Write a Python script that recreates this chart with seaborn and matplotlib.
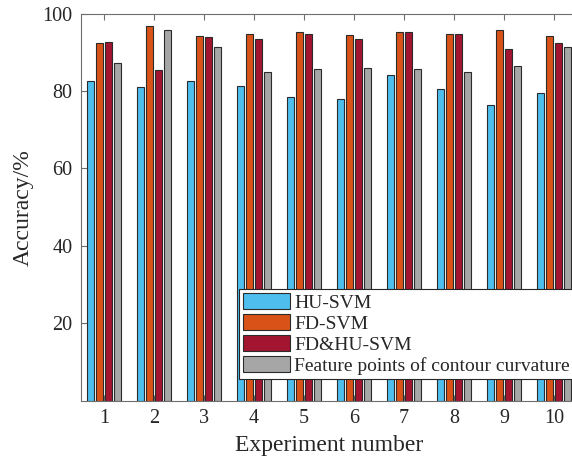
import numpy as np
import pandas as pd
import matplotlib
matplotlib.use("Agg")
import matplotlib.pyplot as plt
import seaborn as sns

# Classification accuracy (%) for each experiment and method
experiments = ["1", "2", "3", "4", "5", "6", "7", "8", "9", "10"]
hu_svm = [82.5, 81.1, 82.5, 81.4, 78.4, 77.9, 84.1, 80.4, 76.4, 79.6]
fd_svm = [92.3, 96.8, 94.3, 94.6, 95.1, 94.5, 95.3, 94.7, 95.7, 94.3]
fd_hu_svm = [92.6, 85.3, 94.0, 93.3, 94.7, 93.5, 95.3, 94.7, 90.8, 92.5]
contour_pts = [87.1, 95.7, 91.3, 85.0, 85.6, 85.9, 85.7, 85.0, 86.4, 91.3]

methods = ["HU-SVM", "FD-SVM", "FD&HU-SVM", "Feature points of contour curvature"]
colors = ["#4DBEEE", "#D95319", "#A2142F", "#A6A6A6"]
yticks = [20, 40, 60, 80, 100]

df = pd.DataFrame({
    "Experiment": np.tile(experiments, 4),
    "Accuracy": hu_svm + fd_svm + fd_hu_svm + contour_pts,
    "Method": np.repeat(methods, len(experiments)),
})

sns.set_theme(style="white")
plt.rcParams["font.family"] = ["Liberation Serif", "DejaVu Serif"]
plt.rcParams["text.color"] = "#262626"

fig = plt.figure(figsize=(5.72, 4.61), dpi=100)
ax = fig.add_axes([0.1416, 0.1302, 0.867, 0.8405])

sns.barplot(data=df, x="Experiment", y="Accuracy", hue="Method",
            hue_order=methods, order=experiments, palette=colors,
            width=0.727, gap=0.2, errorbar=None, saturation=1,
            edgecolor="#2b2b2b", linewidth=0.8, ax=ax)

ax.set_xlim(-0.46, 9.46)
ax.set_ylim(0, 100)
ax.set_yticks(yticks)
ax.set_xlabel("Experiment number", fontsize=17, color="#262626", labelpad=5)
ax.set_ylabel("Accuracy/%", fontsize=17, color="#262626", labelpad=6)

for side in ["left", "bottom", "top", "right"]:
    ax.spines[side].set_visible(True)
    ax.spines[side].set_color("#6e6e6e")
    ax.spines[side].set_linewidth(0.8)
ax.tick_params(axis="both", direction="in", length=4, width=0.8,
               color="#6e6e6e", labelsize=14.5, labelcolor="#262626",
               top=True, right=True, left=True, bottom=True, pad=6)

leg = ax.legend(loc="upper left", bbox_to_anchor=(239 / 572, 1 - 289 / 461),
                bbox_transform=fig.transFigure, fontsize=14, frameon=True,
                fancybox=False, framealpha=1, edgecolor="#262626",
                handlelength=2.4, handleheight=0.9, handletextpad=0.25,
                labelspacing=0.12, borderpad=0.2, borderaxespad=0)
leg.get_frame().set_linewidth(0.8)

fig.savefig("out.png", dpi=100)
